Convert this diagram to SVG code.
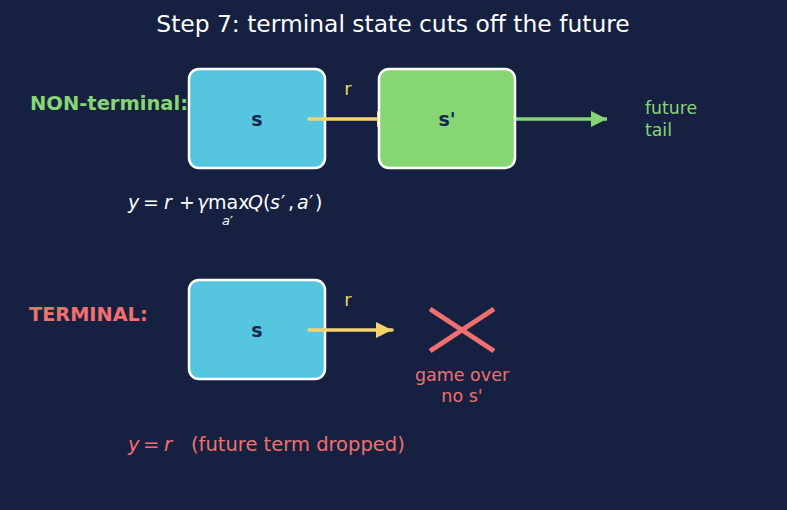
<svg xmlns="http://www.w3.org/2000/svg" width="787" height="510" viewBox="0 0 787 510">
<defs>
<style>
text{font-family:"DejaVu Sans","Liberation Sans",sans-serif}
.box{stroke:#ffffff;stroke-width:2.5}
.lbl{font-size:19px;font-weight:bold;fill:#13284a;text-anchor:middle}
.math{font-size:19px;fill:#ffffff}
.it{font-style:italic}
</style>
<marker id="hy" viewBox="0 0 10 10" refX="10" refY="5" markerWidth="17" markerHeight="16" markerUnits="userSpaceOnUse" orient="auto">
<path d="M0,0 L10,5 L0,10 z" fill="#f5d46b"/>
</marker>
<marker id="hg" viewBox="0 0 10 10" refX="10" refY="5" markerWidth="17" markerHeight="16" markerUnits="userSpaceOnUse" orient="auto">
<path d="M0,0 L10,5 L0,10 z" fill="#86d673"/>
</marker>
</defs>
<rect width="787" height="510" fill="#162040"/>
<text x="393" y="32" font-size="23.4" fill="#ffffff" text-anchor="middle">Step 7: terminal state cuts off the future</text>
<text x="30" y="110" font-size="19.5" font-weight="bold" fill="#86d673">NON-terminal:</text>
<text x="29" y="321" font-size="19.3" font-weight="bold" fill="#f07070">TERMINAL:</text>
<g id="node-s1">
<rect class="box" x="189" y="69" width="136" height="99" rx="10" fill="#56c5e0"/>
<text class="lbl" x="257" y="126">s</text>
</g>
<g id="node-s2">
<rect class="box" x="189" y="280" width="136" height="99" rx="10" fill="#56c5e0"/>
<text class="lbl" x="257" y="337">s</text>
</g>
<g id="connectors">
<path d="M309,119 H393" stroke="#f5d46b" stroke-width="3.5" stroke-linecap="round" fill="none" marker-end="url(#hy)"/>
<path d="M515,119 H607" stroke="#86d673" stroke-width="3.5" fill="none" marker-end="url(#hg)"/>
<path d="M309,330 H392" stroke="#f5d46b" stroke-width="3.5" stroke-linecap="round" fill="none" marker-end="url(#hy)"/>
</g>
<g id="node-sp">
<rect class="box" x="379" y="69" width="136" height="99" rx="10" fill="#86d673"/>
<text class="lbl" x="447" y="126">s'</text>
</g>
<text x="348" y="95" font-size="18" fill="#f5d46b" text-anchor="middle">r</text>
<text x="348" y="306" font-size="18" fill="#f5d46b" text-anchor="middle">r</text>
<text x="645" y="114" font-size="17.3" fill="#86d673">future</text>
<text x="645" y="136" font-size="17.3" fill="#86d673">tail</text>
<g id="node-x">
<path d="M430,309 L494,351 M430,351 L494,309" stroke="#f07070" stroke-width="5" fill="none"/>
<text x="462" y="381" font-size="17.5" fill="#f07070" text-anchor="middle">game over</text>
<text x="462" y="402" font-size="17.5" fill="#f07070" text-anchor="middle">no s'</text>
</g>
<text class="math" y="209"><tspan class="it" x="128">y</tspan><tspan x="143">=</tspan><tspan class="it" x="164">r</tspan><tspan x="179">+</tspan><tspan class="it" x="197">γ</tspan><tspan x="208">max</tspan><tspan class="it" x="248">Q</tspan><tspan x="263">(</tspan><tspan class="it" x="270">s</tspan><tspan x="281">′</tspan><tspan x="288">,</tspan><tspan class="it" x="297">a</tspan><tspan x="309">′</tspan><tspan x="315">)</tspan></text>
<text x="222" y="225" font-size="13" fill="#ffffff"><tspan font-style="italic">a</tspan>′</text>
<text y="451" font-size="19.5" fill="#f07070"><tspan font-style="italic" x="128">y</tspan><tspan x="143">=</tspan><tspan font-style="italic" x="164">r</tspan></text>
<text x="191" y="451" font-size="19.5" fill="#f07070">(future term dropped)</text>
</svg>
